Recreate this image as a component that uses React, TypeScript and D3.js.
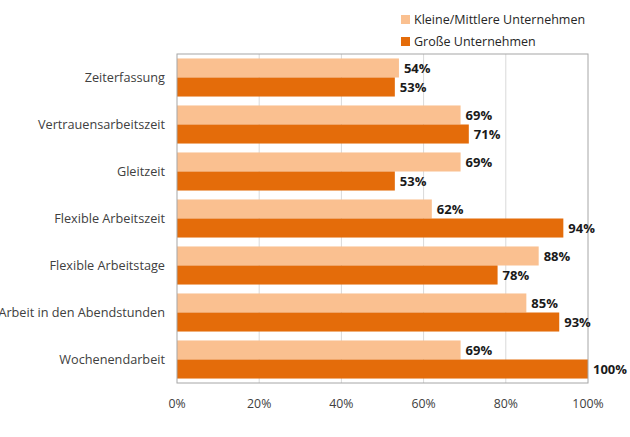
import React from "react";
import * as d3 from "d3";

const categories = [
  "Zeiterfassung",
  "Vertrauensarbeitszeit",
  "Gleitzeit",
  "Flexible Arbeitszeit",
  "Flexible Arbeitstage",
  "Arbeit in den Abendstunden",
  "Wochenendarbeit",
];
const seriesNames = ["Kleine/Mittlere Unternehmen", "Große Unternehmen"];
const kmuValues = [54, 69, 69, 62, 88, 85, 69];
const grossValues = [53, 71, 53, 94, 78, 93, 100];
const xTicks = [0, 20, 40, 60, 80, 100];

const W = 630;
const H = 437;
const plot = { left: 177, right: 588, top: 54, bottom: 383 };
const colors = ["#FAC090", "#E46C0A"];
const font = "'Open Sans', 'Noto Sans', sans-serif";

export default function App() {
  const x = d3.scaleLinear().domain([0, 100]).range([plot.left, plot.right]);
  const y = d3
    .scaleBand<string>()
    .domain(categories)
    .range([plot.top, plot.bottom])
    .paddingInner(0.19)
    .paddingOuter(0.095);
  const sub = d3.scaleBand<number>().domain([0, 1]).range([0, y.bandwidth()]);
  const series = [kmuValues, grossValues];

  return (
    <svg
      width={W}
      height={H}
      style={{ position: "absolute", left: 0, top: 0, background: "#fff" }}
      fontFamily={font}
    >
      {xTicks.slice(1, -1).map((t) => (
        <line
          key={t}
          x1={x(t)}
          x2={x(t)}
          y1={plot.top}
          y2={plot.bottom}
          stroke="#D9D9D9"
          strokeWidth={1}
        />
      ))}
      {categories.map((c, i) =>
        series.map((vals, s) => (
          <rect
            key={c + s}
            x={x(0)}
            y={(y(c) as number) + (sub(s) as number)}
            width={x(vals[i]) - x(0)}
            height={sub.bandwidth()}
            fill={colors[s]}
          />
        ))
      )}
      <rect
        x={plot.left}
        y={plot.top}
        width={plot.right - plot.left}
        height={plot.bottom - plot.top}
        fill="none"
        stroke="#A6A6A6"
        strokeWidth={1}
      />
      {categories.map((c, i) =>
        series.map((vals, s) => (
          <text
            key={"l" + c + s}
            x={x(vals[i]) + 5}
            y={(y(c) as number) + (sub(s) as number) + sub.bandwidth() / 2 + 0.5}
            dy="0.35em"
            fontSize={13}
            fontWeight="bold"
            fill="#1A1A1A"
          >
            {vals[i]}%
          </text>
        ))
      )}
      {categories.map((c) => (
        <text
          key={"c" + c}
          x={plot.left - 12}
          y={(y(c) as number) + y.bandwidth() / 2}
          dy="0.35em"
          textAnchor="end"
          fontSize={12.7}
          fill="#404040"
        >
          {c}
        </text>
      ))}
      {xTicks.map((t) => (
        <text
          key={"t" + t}
          x={x(t)}
          y={404}
          dy="0.35em"
          textAnchor="middle"
          fontSize={12.3}
          fill="#404040"
        >
          {t}%
        </text>
      ))}
      {seriesNames.map((n, s) => (
        <g key={n} transform={`translate(401, ${15 + s * 22})`}>
          <rect x={0} y={0} width={9} height={9} fill={colors[s]} />
          <text x={13} y={4.5} dy="0.35em" fontSize={12.5} fill="#262626">
            {n}
          </text>
        </g>
      ))}
    </svg>
  );
}
